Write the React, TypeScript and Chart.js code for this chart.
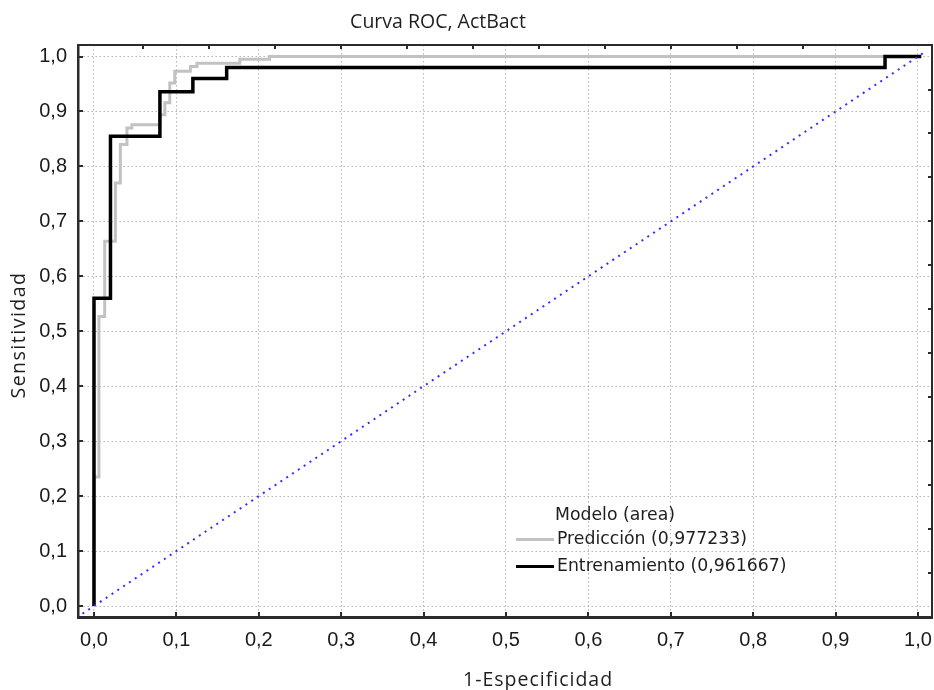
import React, { useEffect, useRef } from "react";
import { Chart, registerables } from "chart.js";

Chart.register(...registerables);

// ---- texts ----
const chartTitle = "Curva ROC, ActBact";
const xAxisTitle = "1-Especificidad";
const yAxisTitle = "Sensitividad";
const legendTitle = "Modelo (area)";

// ---- tick values ----
const xTickValues = [0, 0.1, 0.2, 0.3, 0.4, 0.5, 0.6, 0.7, 0.8, 0.9, 1.0];
const yTickValues = [0, 0.1, 0.2, 0.3, 0.4, 0.5, 0.6, 0.7, 0.8, 0.9, 1.0];
const topTickValues = [0.06, 0.14, 0.22, 0.3, 0.38, 0.46, 0.54, 0.62, 0.7, 0.78, 0.86, 0.94];
const rightTickValues = [0.06, 0.14, 0.22, 0.3, 0.38, 0.46, 0.54, 0.62, 0.7, 0.78, 0.86, 0.94];

// ---- series (ROC corner points, vertical step first) ----
const predLabel = "Predicción (0,977233)";
const predFpr = [0, 0.006, 0.013, 0.026, 0.032, 0.04, 0.046, 0.08, 0.086, 0.092, 0.098, 0.117, 0.125, 0.177, 0.213, 1.0];
const predTpr = [0, 0.235, 0.527, 0.664, 0.77, 0.84, 0.87, 0.876, 0.894, 0.916, 0.952, 0.973, 0.982, 0.988, 0.995, 1.0];

const trainLabel = "Entrenamiento (0,961667)";
const trainFpr = [0, 0.02, 0.08, 0.12, 0.161, 0.96, 1.004];
const trainTpr = [0, 0.56, 0.855, 0.936, 0.96, 0.98, 1.0];

const diagFpr = [-0.014, 1.007];
const diagTpr = [-0.014, 1.007];

const fmt = (v: number | string) => Number(v).toFixed(1).replace(".", ",");
const toPoints = (xs: number[], ys: number[]) => xs.map((x, i) => ({ x, y: ys[i] }));

const decorPlugin = {
  id: "decor",
  afterDraw(chart: any) {
    const { ctx, chartArea: ca, scales } = chart;
    const xs = scales.x;
    const ys = scales.y;
    ctx.save();
    // top & right frame
    ctx.strokeStyle = "#2b2b2b";
    ctx.lineWidth = 2;
    ctx.setLineDash([]);
    ctx.beginPath();
    ctx.moveTo(ca.left, ca.top);
    ctx.lineTo(ca.right, ca.top);
    ctx.lineTo(ca.right, ca.bottom);
    ctx.stroke();

    // inward tick marks
    ctx.lineWidth = 2;
    ctx.beginPath();
    for (const v of yTickValues) {
      const p = Math.round(ys.getPixelForValue(v));
      ctx.moveTo(ca.left, p);
      ctx.lineTo(ca.left + 5, p);
    }
    for (const v of xTickValues) {
      const p = Math.round(xs.getPixelForValue(v));
      ctx.moveTo(p, ca.bottom);
      ctx.lineTo(p, ca.bottom - 5);
    }
    for (const v of topTickValues) {
      const p = Math.round(xs.getPixelForValue(v));
      ctx.moveTo(p, ca.top);
      ctx.lineTo(p, ca.top + 4);
    }
    for (const v of rightTickValues) {
      const p = Math.round(ys.getPixelForValue(v));
      ctx.moveTo(ca.right, p);
      ctx.lineTo(ca.right - 4, p);
    }
    ctx.stroke();

    // chart title
    ctx.fillStyle = "#1e1e1e";
    ctx.font = '19.5px "Open Sans"';
    ctx.textAlign = "center";
    ctx.textBaseline = "middle";
    ctx.fillText(chartTitle, 438, 22);

    // x axis title
    ctx.font = '19.5px "Open Sans"';
    (ctx as any).letterSpacing = "1px";
    ctx.textAlign = "left";
    ctx.fillText(xAxisTitle, 463, 680);

    // y axis title
    ctx.save();
    ctx.translate(19, (ca.top + ca.bottom) / 2 + 4);
    ctx.rotate(-Math.PI / 2);
    ctx.textAlign = "center";
    (ctx as any).letterSpacing = "1.5px";
    ctx.fillText(yAxisTitle, 0, 0);
    ctx.restore();
    (ctx as any).letterSpacing = "0px";

    // legend
    const legendDs = chart.data.datasets.filter((d: any) => d.label);
    ctx.font = '17.3px "DejaVu Sans"';
    ctx.textAlign = "left";
    ctx.fillStyle = "#1e1e1e";
    ctx.fillText(legendTitle, 555, 516);
    legendDs.forEach((d: any, i: number) => {
      const y = 539.5 + i * 27;
      ctx.strokeStyle = d.borderColor;
      ctx.lineWidth = 3;
      ctx.setLineDash([]);
      ctx.beginPath();
      ctx.moveTo(516, y);
      ctx.lineTo(554, y);
      ctx.stroke();
      ctx.fillStyle = "#1e1e1e";
      ctx.fillText(d.label, 557, y);
    });
    ctx.restore();
  },
};

export default function App() {
  const ref = useRef<HTMLCanvasElement>(null);
  useEffect(() => {
    document.body.style.margin = "0";
    const canvas = ref.current!;
    const tickFont = { family: '"Liberation Sans", Arial, sans-serif', size: 20 };
    const chart = new Chart(canvas, {
      type: "line",
      data: {
        datasets: [
          {
            label: predLabel,
            data: toPoints(predFpr, predTpr),
            borderColor: "#c2c2c2",
            borderWidth: 3,
            stepped: "after",
            pointRadius: 0,
            order: 2,
            borderJoinStyle: "miter",
          },
          {
            label: trainLabel,
            data: toPoints(trainFpr, trainTpr),
            borderColor: "#000000",
            borderWidth: 3.5,
            stepped: "after",
            pointRadius: 0,
            order: 1,
            borderJoinStyle: "miter",
          },
          {
            label: "",
            data: toPoints(diagFpr, diagTpr),
            borderColor: "#2f2fff",
            borderWidth: 2,
            borderDash: [2, 5],
            pointRadius: 0,
            order: 0,
          },
        ],
      } as any,
      options: {
        responsive: false,
        animation: false,
        devicePixelRatio: 1,
        layout: { padding: { left: 0, top: 45, right: 2, bottom: 0 } },
        plugins: {
          legend: { display: false },
          tooltip: { enabled: false },
          title: { display: false },
        },
        elements: { point: { radius: 0 }, line: { tension: 0 } },
        scales: {
          x: {
            type: "linear",
            min: -0.0194,
            max: 1.017,
            afterBuildTicks: (s: any) => {
              s.ticks = xTickValues.map((v) => ({ value: v }));
            },
            afterFit: (s: any) => {
              s.height = 73;
              s.paddingLeft = 0;
              s.paddingRight = 0;
            },
            ticks: {
              callback: (v: any) => fmt(v),
              font: tickFont,
              color: "#1a1a1a",
              padding: 11,
              maxRotation: 0,
              autoSkip: false,
            },
            grid: { color: "#b4b4b4", lineWidth: 1, drawTicks: false },
            border: { display: true, color: "#2b2b2b", width: 3, dash: [1.5, 2.5] },
          },
          y: {
            type: "linear",
            min: -0.02,
            max: 1.021,
            afterBuildTicks: (s: any) => {
              s.ticks = yTickValues.map((v) => ({ value: v }));
            },
            afterFit: (s: any) => {
              s.width = 78;
              s.paddingTop = 0;
              s.paddingBottom = 0;
            },
            ticks: {
              callback: (v: any) => fmt(v),
              font: tickFont,
              color: "#1a1a1a",
              padding: 11,
              autoSkip: false,
            },
            grid: { color: "#b4b4b4", lineWidth: 1, drawTicks: false },
            border: { display: true, color: "#2b2b2b", width: 2.5, dash: [1.5, 2.5] },
          },
        },
      } as any,
      plugins: [decorPlugin],
    });
    return () => chart.destroy();
  }, []);
  return (
    <div style={{ width: 934, height: 690 }}>
      <canvas ref={ref} width={934} height={690} style={{ display: "block" }} />
    </div>
  );
}
